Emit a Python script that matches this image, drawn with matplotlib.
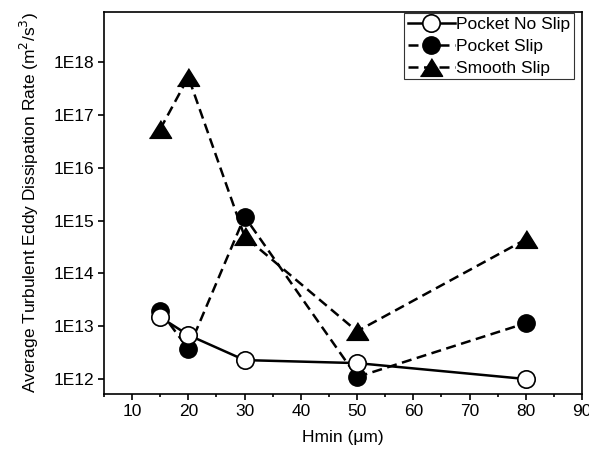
import math
import matplotlib
matplotlib.use('Agg')
import matplotlib.pyplot as plt
from matplotlib.ticker import FixedLocator, FuncFormatter, MultipleLocator, NullLocator

plt.rcParams['font.family'] = ['Liberation Sans', 'DejaVu Sans']

# ===== data =====
hmin = [15, 20, 30, 50, 80]
pocket_no_slip = [1.48e13, 6.8e12, 2.28e12, 2.0e12, 1.0e12]
pocket_slip = [1.92e13, 3.7e12, 1.19e15, 1.09e12, 1.14e13]
smooth_slip = [5.4e16, 5.2e17, 5.0e14, 8.0e12, 4.4e14]

fig = plt.figure(figsize=(5.89, 4.57), dpi=100)
ax = fig.add_axes([104 / 589, 1 - 394 / 457, 478 / 589, 382 / 457])

dash = (0, (4, 2.2))
tri = [(-1, -0.8), (1, -0.8), (0, 0.8)]  # wide, flat triangle marker
ax.plot(hmin, pocket_no_slip, '-', color='black', lw=1.8, marker='o',
        ms=12.5, mfc='white', mec='black', mew=1.2, label='Pocket No Slip', zorder=3)
ax.plot(hmin, pocket_slip, linestyle=dash, color='black', lw=1.8, marker='o',
        ms=12.5, mfc='black', mec='black', label='Pocket Slip', zorder=2)
ax.plot(hmin, smooth_slip, linestyle=dash, color='black', lw=1.8, marker=tri,
        ms=16, mfc='black', mec='black', label='Smooth Slip', zorder=2)

ax.set_yscale('log')
ax.set_ylim(5.2e11, 8.9e18)
ax.set_xlim(5, 90)
ax.xaxis.set_major_locator(MultipleLocator(10))
ax.xaxis.set_minor_locator(MultipleLocator(5))
ax.yaxis.set_major_locator(FixedLocator([10.0 ** k for k in range(12, 19)]))
ax.yaxis.set_minor_locator(NullLocator())
ax.yaxis.set_major_formatter(FuncFormatter(lambda v, p: f'1E{round(math.log10(v))}'))

ax.tick_params(which='major', direction='out', length=4, width=1.2, labelsize=12.5, pad=3)
ax.tick_params(which='minor', direction='out', length=2.5, width=1.2)
for s in ax.spines.values():
    s.set_linewidth(1.2)

ax.set_xlabel('Hmin (μm)', fontsize=12.5, labelpad=8)
ax.set_ylabel('Average Turbulent Eddy Dissipation Rate (m$^2$/s$^3$)', fontsize=12.5, labelpad=9)

leg = ax.legend(loc='upper right', bbox_to_anchor=(0.983, 0.997), fontsize=12.5,
                handlelength=2.7, handletextpad=0.1, labelspacing=0.4, borderpad=0.2,
                borderaxespad=0, fancybox=False, edgecolor='#333333', framealpha=1)
leg.get_frame().set_linewidth(0.8)

fig.savefig('out.png', dpi=100)
